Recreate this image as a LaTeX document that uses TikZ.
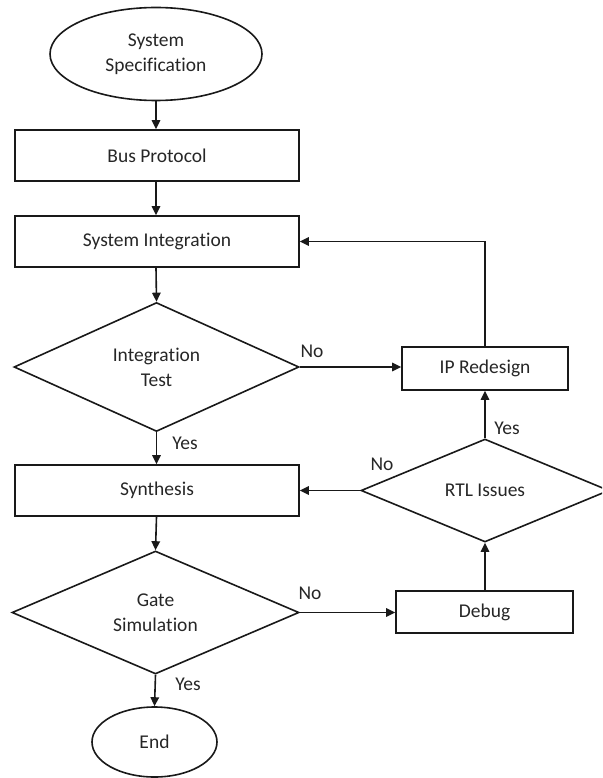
\documentclass[tikz,border=0pt]{standalone}
\usepackage{fontspec}
\setmainfont{Carlito}[RawFeature={-liga;-calt}]
\usetikzlibrary{shapes.geometric,arrows.meta}

% break the t-i ligature of Carlito
\newcommand{\nolig}{\kern0pt}

\tikzset{
  every node/.style={font=\fontsize{19.5}{25}\selectfont, text=black!85},
  line/.style={draw=black!90, line width=1.6pt},
  arr/.style={line, -{Triangle[length=9pt,width=8.5pt]}},
  procbox/.style={line, rectangle, inner sep=0pt},
  terminal/.style={line, ellipse, inner sep=0pt, align=center},
  decision/.style={line, diamond, inner sep=0pt},
  tag/.style={inner sep=0pt}
}

\begin{document}
\begin{tikzpicture}[x=1pt, y=-1pt]
  \clip (0,0) rectangle (602,778);
  \useasboundingbox (0,0) rectangle (602,778);

  % main column
  \node[terminal, minimum width=212pt, minimum height=93pt] (start) at (156,54) {System\\Specifica\nolig tion};
  \node[procbox, minimum width=284pt, minimum height=51pt] (bus) at (157,155.5) {Bus Protocol};
  \node[procbox, minimum width=284pt, minimum height=51pt] (sysint) at (157,241.5) {System Integra\nolig tion};
  \node[decision, minimum width=285pt, minimum height=129pt,
        label={[align=center, text=black!85]center:Integra\nolig tion\\Test}] (itest) at (156.5,367) {};
  \node[procbox, minimum width=284pt, minimum height=51pt] (synth) at (157,490.5) {Synthesis};
  \node[decision, minimum width=287pt, minimum height=123pt,
        label={[align=center, text=black!85]center:Gate\\Simula\nolig tion}] (gsim) at (155.5,612.5) {};
  \node[terminal, minimum width=125pt, minimum height=70pt] (endn) at (154.5,742) {End};

  % right column
  \node[procbox, minimum width=166pt, minimum height=43pt] (ip) at (485,368.5) {IP Redesign};
  \node[decision, minimum width=248pt, minimum height=103pt,
        label={[text=black!85]center:RTL Issues}] (rtl) at (485,490.5) {};
  \node[procbox, minimum width=177pt, minimum height=42pt] (debug) at (484.5,612) {Debug};

  % connectors
  \draw[arr] (start.south) -- (start.south |- bus.north);
  \draw[arr] (start.south |- bus.south) -- (start.south |- sysint.north);
  \draw[arr] (start.south |- sysint.south) -- (itest.north);
  \draw[arr] (itest.south) -- (itest.south |- synth.north);
  \draw[arr] (itest.east) -- (itest.east -| ip.west);
  \draw[arr] (ip.north) |- (sysint.east);
  \draw[arr] (rtl.north) -- (ip.south);
  \draw[arr] (rtl.west) -- (synth.east);
  \draw[arr] (itest.south |- synth.south) -- (gsim.north);
  \draw[arr] (gsim.east) -- (gsim.east -| debug.west);
  \draw[arr] (rtl.south |- debug.north) -- (rtl.south);
  \draw[arr] (gsim.south) -- (endn.north);

  % branch labels
  \node[tag] (no1) at (312,351) {No};
  \node[tag] (yes1) at (185,443) {Yes};
  \node[tag] (yes2) at (507,428) {Yes};
  \node[tag] (no2) at (382,464) {No};
  \node[tag] (no3) at (310,593) {No};
  \node[tag] (yes3) at (188,684) {Yes};
\end{tikzpicture}
\end{document}
